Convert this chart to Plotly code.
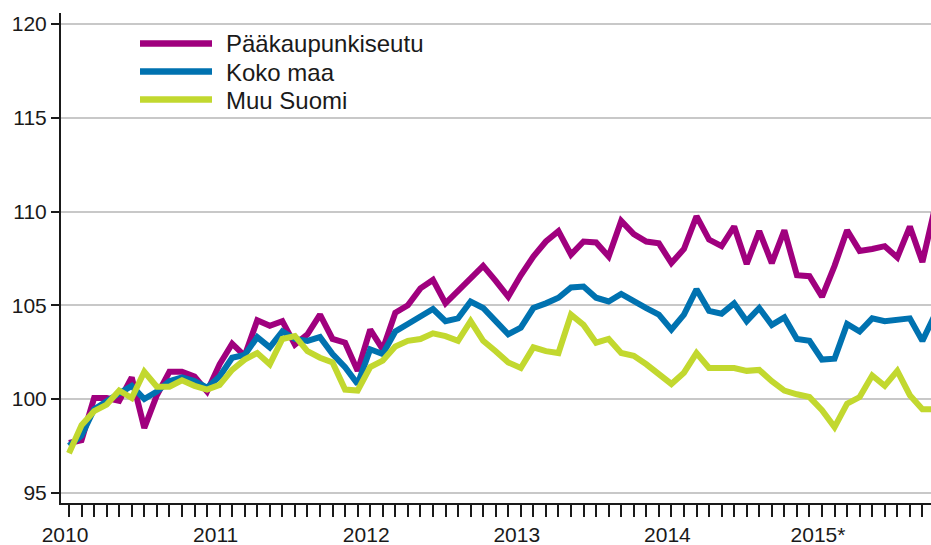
import plotly.graph_objects as go

# ---- data (monthly index, Jan 2010 .. Oct 2015) ----
years = ["2010", "2011", "2012", "2013", "2014", "2015*"]
series_names = ["Pääkaupunkiseutu", "Koko maa", "Muu Suomi"]

paakaupunkiseutu = [
    97.65, 97.8, 100.05, 100.05, 99.9, 101.15, 98.45, 100.2, 101.45, 101.45,
    101.2, 100.4, 101.85, 102.95, 102.3, 104.2, 103.9, 104.15, 102.9, 103.45,
    104.5, 103.2, 103.0, 101.5, 103.7, 102.65, 104.6, 105.0, 105.9, 106.35,
    105.1, 105.75, 106.4, 107.1, 106.3, 105.45, 106.6, 107.6, 108.4, 108.95,
    107.7, 108.4, 108.35, 107.6, 109.5, 108.8, 108.4, 108.3, 107.25, 108.0,
    109.75, 108.5, 108.15, 109.2, 107.2, 108.95, 107.25, 109.0, 106.6, 106.55,
    105.45, 107.1, 109.0, 107.9, 108.0, 108.15, 107.55, 109.2, 107.3, 110.2,
]
koko_maa = [
    97.5, 98.05, 99.45, 99.9, 100.3, 100.7, 100.0, 100.4, 100.95, 101.15,
    100.95, 100.6, 101.2, 102.2, 102.35, 103.3, 102.75, 103.6, 103.2, 103.1,
    103.3, 102.4, 101.7, 100.8, 102.65, 102.4, 103.6, 104.0, 104.4, 104.8,
    104.15, 104.3, 105.2, 104.85, 104.15, 103.45, 103.8, 104.85, 105.1, 105.4,
    105.95, 106.0, 105.4, 105.2, 105.6, 105.2, 104.85, 104.5, 103.7, 104.5,
    105.85, 104.7, 104.55, 105.1, 104.15, 104.85, 103.95, 104.35, 103.2, 103.1,
    102.1, 102.15, 104.0, 103.6, 104.3, 104.15, 104.25, 104.3, 103.1, 104.5,
]
muu_suomi = [
    97.1, 98.6, 99.35, 99.7, 100.45, 100.05, 101.45, 100.65, 100.65, 101.0,
    100.7, 100.5, 100.75, 101.55, 102.1, 102.45, 101.85, 103.2, 103.35, 102.55,
    102.2, 101.95, 100.5, 100.45, 101.7, 102.05, 102.8, 103.1, 103.2, 103.5,
    103.35, 103.1, 104.15, 103.1, 102.55, 101.95, 101.65, 102.75, 102.55, 102.45,
    104.5, 103.95, 103.0, 103.2, 102.45, 102.3, 101.85, 101.3, 100.8, 101.4,
    102.45, 101.65, 101.65, 101.65, 101.5, 101.55, 100.95, 100.45, 100.25, 100.1,
    99.4, 98.5, 99.75, 100.1, 101.25, 100.7, 101.5, 100.2, 99.45, 99.45,
]
y_ticks = [95, 100, 105, 110, 115, 120]

# ---- styling / layout (pixel targets in window coordinates) ----
colors = ["#a0007e", "#0072b0", "#c2d82f"]
FONT = "Liberation Sans, Arial, sans-serif"
W, H = 931, 545
AX_L, AX_B, AX_T = 61, 503, 13   # plot area edges in pixels
L, T, B, R = AX_L, AX_T, H - AX_B, 0
PW, PH = W - L - R, H - T - B

def px_x(px):
    return (px - AX_L) / PW

def px_y(py):
    return (AX_B - py) / PH

n = len(paakaupunkiseutu)
x = list(range(n))
tickvals = list(range(n))
ticktext = [years[i // 12] if i % 12 == 0 else "" for i in range(n)]

fig = go.Figure()
for name, vals, col in zip(series_names, [paakaupunkiseutu, koko_maa, muu_suomi], colors):
    fig.add_trace(go.Scatter(x=x, y=vals, mode="lines", name=name,
                             line=dict(color=col, width=6), showlegend=False,
                             hoverinfo="skip"))

shapes = [dict(type="rect", xref="paper", yref="paper", layer="between",
               x0=px_x(70), x1=px_x(430), y0=px_y(112), y1=px_y(15),
               fillcolor="white", line=dict(width=0))]
annotations = []
legend_rows_y = [43.5, 71.5, 99.5]
for name, col, ly in zip(series_names, colors, legend_rows_y):
    shapes.append(dict(type="line", xref="paper", yref="paper", layer="above",
                       x0=px_x(140), x1=px_x(212), y0=px_y(ly), y1=px_y(ly),
                       line=dict(color=col, width=6.5)))
    annotations.append(dict(xref="paper", yref="paper", x=px_x(224), y=px_y(ly + 0.5),
                            text=name, showarrow=False, xanchor="left", yanchor="middle",
                            font=dict(family=FONT, size=24, color="#1a1a1a")))

first_pt_px = 69
px_per_month = 12.55
fig.update_layout(
    width=W, height=H,
    margin=dict(l=L, r=R, t=T, b=B, pad=0),
    paper_bgcolor="white", plot_bgcolor="white",
    font=dict(family=FONT, size=21, color="#1a1a1a"),
    shapes=shapes, annotations=annotations,
    showlegend=False,
    xaxis=dict(range=[(AX_L - first_pt_px) / px_per_month,
                      (W - first_pt_px) / px_per_month],
               tickmode="array", tickvals=tickvals, ticktext=ticktext,
               ticks="outside", ticklen=12, tickwidth=2, tickcolor="#1a1a1a",
               showline=True, linecolor="#1a1a1a", linewidth=2,
               showgrid=False, zeroline=False, ticklabelshift=-4,
               automargin=False),
    yaxis=dict(range=[94.45, 120.59], tickmode="array", tickvals=y_ticks,
               ticks="outside", ticklen=8, tickwidth=2, tickcolor="#1a1a1a",
               showline=True, linecolor="#1a1a1a", linewidth=2,
               showgrid=True, gridcolor="#c8c8c8", gridwidth=2, zeroline=False,
               automargin=False),
)

page_css = ("document.body.style.margin='0';"
            "document.body.style.overflow='hidden';"
            "document.documentElement.style.overflow='hidden';")
fig.write_html("out.html", post_script=page_css,
               config={"displayModeBar": False, "staticPlot": True})
